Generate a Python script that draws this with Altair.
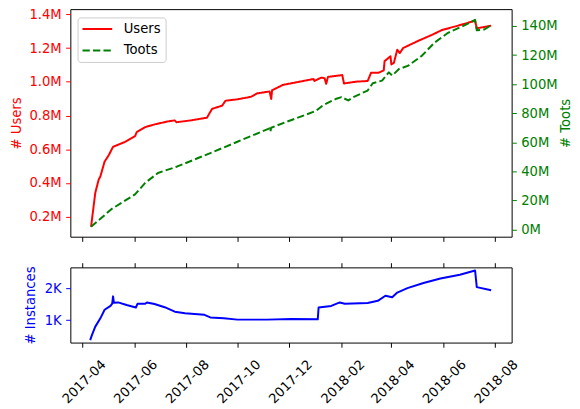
import altair as alt
import pandas as pd

# ---------------- data ----------------
users_dates = [
    "2017-04-11", "2017-04-16", "2017-04-20", "2017-04-22", "2017-04-27", "2017-05-02",
    "2017-05-07", "2017-05-21", "2017-06-02", "2017-06-04", "2017-06-14", "2017-06-25",
    "2017-07-11", "2017-07-19", "2017-07-21", "2017-08-07", "2017-08-26", "2017-09-01",
    "2017-09-13", "2017-09-17", "2017-10-01", "2017-10-17", "2017-10-24", "2017-11-08",
    "2017-11-10", "2017-11-11", "2017-11-24", "2017-11-28", "2017-12-18", "2017-12-30",
    "2017-12-31", "2018-01-08", "2018-01-12", "2018-01-14", "2018-01-16", "2018-02-02",
    "2018-02-04", "2018-02-18", "2018-03-04", "2018-03-08", "2018-03-17", "2018-03-23",
    "2018-03-24", "2018-03-31", "2018-04-01", "2018-04-04", "2018-04-08", "2018-04-11",
    "2018-04-15", "2018-05-03", "2018-05-19", "2018-05-31", "2018-06-19", "2018-07-09",
    "2018-07-11", "2018-07-20", "2018-07-28",
]
users_millions = [
    0.139, 0.341, 0.419, 0.438, 0.526, 0.565,
    0.614, 0.643, 0.677, 0.702, 0.731, 0.747,
    0.765, 0.771, 0.760, 0.771, 0.787, 0.839,
    0.859, 0.888, 0.896, 0.911, 0.931, 0.943,
    0.898, 0.950, 0.982, 0.986, 1.005, 1.017,
    1.005, 1.025, 1.022, 0.988, 1.029, 1.040,
    0.990, 1.001, 1.005, 1.054, 1.054, 1.068,
    1.123, 1.152, 1.103, 1.113, 1.191, 1.171,
    1.201, 1.244, 1.279, 1.308, 1.334, 1.363,
    1.318, 1.326, 1.334,
]

toots_dates = [
    "2017-04-11", "2017-05-05", "2017-06-02", "2017-06-14", "2017-06-29", "2017-07-22",
    "2017-08-30", "2017-10-01", "2017-11-08", "2017-11-09", "2017-11-10", "2017-11-28",
    "2018-01-02", "2018-01-10", "2018-01-26", "2018-02-01", "2018-02-09", "2018-02-15",
    "2018-03-04", "2018-03-10", "2018-03-21", "2018-03-29", "2018-04-02", "2018-04-10",
    "2018-04-21", "2018-05-07", "2018-05-22", "2018-06-07", "2018-06-27", "2018-07-09",
    "2018-07-11", "2018-07-20", "2018-07-28",
]
toots_millions = [
    1.9, 14.0, 24.2, 32.1, 38.9, 43.4,
    52.6, 60.4, 69.6, 67.5, 70.0, 74.1,
    81.6, 85.4, 90.0, 91.1, 88.8, 91.1,
    95.6, 100.6, 102.4, 108.1, 105.9, 110.4,
    112.7, 119.5, 128.5, 135.3, 140.6, 144.2,
    137.0, 137.6, 140.6,
]

instances_dates = [
    "2017-04-10", "2017-04-12", "2017-04-16", "2017-04-22", "2017-04-27", "2017-05-04",
    "2017-05-06", "2017-05-07", "2017-05-08", "2017-05-13", "2017-05-23", "2017-06-03",
    "2017-06-05", "2017-06-14", "2017-06-16", "2017-06-25", "2017-07-07", "2017-07-19",
    "2017-07-31", "2017-08-23", "2017-08-30", "2017-09-15", "2017-10-01", "2017-11-05",
    "2017-12-04", "2018-01-04", "2018-01-05", "2018-01-20", "2018-01-30", "2018-02-05",
    "2018-03-04", "2018-03-16", "2018-03-25", "2018-04-02", "2018-04-08", "2018-04-20",
    "2018-05-09", "2018-05-29", "2018-06-21", "2018-07-09", "2018-07-11", "2018-07-28",
]
instances_thousands = [
    0.377, 0.535, 0.80, 1.06, 1.33, 1.45,
    1.52, 1.75, 1.55, 1.56, 1.48, 1.40,
    1.52, 1.52, 1.56, 1.51, 1.41, 1.27,
    1.22, 1.17, 1.09, 1.06, 1.02, 1.02,
    1.04, 1.03, 1.40, 1.45, 1.56, 1.52,
    1.54, 1.61, 1.77, 1.72, 1.87, 2.01,
    2.17, 2.31, 2.43, 2.56, 2.04, 1.94,
]

series_names = ["Users", "Toots"]
series_colors = ["#ff0000", "#008000"]
tick_months = [(2017, 4), (2017, 6), (2017, 8), (2017, 10), (2017, 12),
               (2018, 2), (2018, 4), (2018, 6), (2018, 8)]
users_ticks = [0.2, 0.4, 0.6, 0.8, 1.0, 1.2, 1.4]
toots_ticks = [0, 20, 40, 60, 80, 100, 120, 140]
instances_ticks = [1, 2]

users_df = pd.DataFrame({"date": users_dates, "value": users_millions, "series": "Users"})
toots_df = pd.DataFrame({"date": toots_dates, "value": toots_millions, "series": "Toots"})
inst_df = pd.DataFrame({"date": instances_dates, "value": instances_thousands})

FONT = "DejaVu Sans"
FS = 13.3

x_domain = [alt.DateTime(year=2017, month=3, date=17, hours=12, utc=True),
            alt.DateTime(year=2018, month=8, date=21, hours=5, utc=True)]
x_scale = alt.Scale(type="utc", domain=x_domain, nice=False)
tick_vals = [alt.DateTime(year=y, month=m, date=1, utc=True) for y, m in tick_months]

legend = alt.Legend(
    title=None, orient="none", legendX=7.3, legendY=8.4,
    symbolType="M-3,0L3,0", symbolSize=100, symbolStrokeWidth=2, symbolOffset=8.35,
    labelFont=FONT, labelFontSize=FS, labelColor="black", labelOffset=20,
    padding=5, rowPadding=7.7,
    strokeColor="#cccccc", fillColor="rgba(255,255,255,0.8)", cornerRadius=3,
)
color_enc = alt.Color("series:N", scale=alt.Scale(domain=series_names, range=series_colors), legend=legend)
dash_enc = alt.StrokeDash("series:N", scale=alt.Scale(domain=series_names, range=[[1, 0], [7.4, 3.2]]), legend=legend)

x_top = alt.X("date:T", scale=x_scale,
              axis=alt.Axis(values=tick_vals, labels=False, title=None, domain=False, grid=False,
                            tickSize=4.7, tickColor="black", tickWidth=1))

users_line = alt.Chart(users_df).mark_line(strokeWidth=2, strokeJoin="round").encode(
    x=x_top,
    y=alt.Y("value:Q", scale=alt.Scale(domain=[0.080, 1.432], nice=False, zero=False),
            axis=alt.Axis(orient="left", values=users_ticks, labelExpr="format(datum.value, '.1f') + 'M'",
                          title="# Users", titleColor="#ff0000", labelColor="#ff0000", tickColor="#ff0000",
                          titleFont=FONT, titleFontSize=FS, titleFontWeight="normal", titlePadding=6,
                          labelFont=FONT, labelFontSize=FS, labelPadding=4.5, tickSize=4.7,
                          domain=False, grid=False)),
    color=color_enc,
    strokeDash=dash_enc,
)

toots_line = alt.Chart(toots_df).mark_line(strokeWidth=2, strokeJoin="round").encode(
    x=x_top,
    y=alt.Y("value:Q", scale=alt.Scale(domain=[-4.9, 151.6], nice=False, zero=False),
            axis=alt.Axis(orient="right", values=toots_ticks, labelExpr="format(datum.value, '.0f') + 'M'",
                          title="# Toots", titleColor="#008000", labelColor="#008000", tickColor="#008000",
                          titleFont=FONT, titleFontSize=FS, titleFontWeight="normal", titlePadding=1,
                          titleAngle=270, titleBaseline="top",
                          labelFont=FONT, labelFontSize=FS, labelPadding=4.5, tickSize=4.7,
                          domain=False, grid=False)),
    color=color_enc,
    strokeDash=dash_enc,
)

top = alt.layer(users_line, toots_line).resolve_scale(y="independent").properties(width=446, height=230)

inst_y_scale = alt.Scale(domain=[0.30, 2.66], nice=False, zero=False)
inst_line = alt.Chart(inst_df).mark_line(strokeWidth=2, color="#0000ff", strokeJoin="round").encode(
    x=alt.X("date:T", scale=x_scale,
            axis=alt.Axis(orient="bottom", values=tick_vals, labelExpr="utcFormat(datum.value, '%Y-%m')",
                          title=None, domain=False, grid=False, tickSize=4.7, tickColor="black",
                          labelColor="black", labelFont=FONT, labelFontSize=FS, labelAngle=-45,
                          labelAlign="right", labelBaseline="top", labelOffset=16, labelPadding=10,
                          labelOverlap=False, labelBound=False, labelFlush=False)),
    y=alt.Y("value:Q", scale=inst_y_scale,
            axis=alt.Axis(orient="left", values=instances_ticks, labelExpr="format(datum.value, '.0f') + 'K'",
                          title="# Instances", titleColor="#0000ff", labelColor="#0000ff", tickColor="#0000ff",
                          titleFont=FONT, titleFontSize=FS, titleFontWeight="normal", titlePadding=7,
                          labelFont=FONT, labelFontSize=FS, labelPadding=4.5, tickSize=4.7,
                          domain=False, grid=False)),
)
inst_topaxis = alt.Chart(inst_df).mark_line(strokeOpacity=0).encode(
    x=alt.X("date:T", scale=x_scale,
            axis=alt.Axis(orient="top", values=tick_vals, labels=False, title=None, domain=False,
                          grid=False, tickSize=4.7, tickColor="black")),
    y=alt.Y("value:Q", scale=inst_y_scale, axis=None),
)
bottom = alt.layer(inst_line, inst_topaxis).resolve_axis(x="independent", y="independent").properties(
    width=446, height=76)

chart = alt.vconcat(top, bottom, spacing=31, bounds="flush").properties(
    padding={"left": 0, "top": -4, "right": 0, "bottom": 0},
).configure(font=FONT).configure_view(stroke="black", strokeWidth=1)

chart.save("out.html", embed_options={"renderer": "svg", "actions": False})
